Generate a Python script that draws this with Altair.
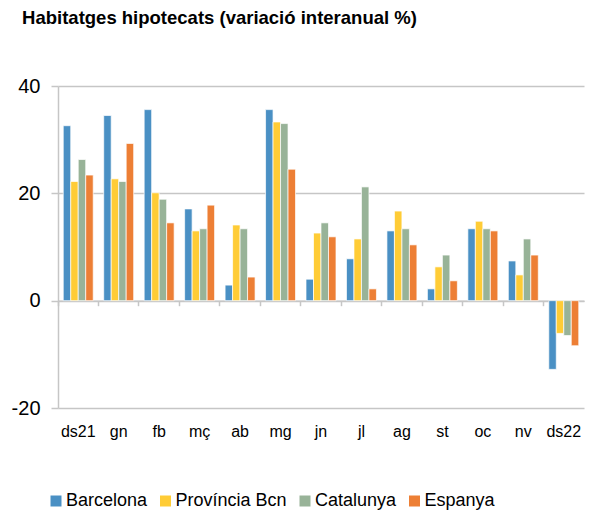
import altair as alt
import pandas as pd

months = ["ds21", "gn", "fb", "mç", "ab", "mg", "jn", "jl", "ag", "st", "oc", "nv", "ds22"]
series = ["Barcelona", "Província Bcn", "Catalunya", "Espanya"]
colors = ["#4A90C4", "#FFCC36", "#98B398", "#ED7F35"]

barcelona = [32.6, 34.5, 35.6, 17.1, 2.9, 35.6, 4.0, 7.8, 13.0, 2.2, 13.4, 7.4, -12.8]
provincia = [22.2, 22.7, 20.1, 13.0, 14.1, 33.3, 12.6, 11.5, 16.7, 6.3, 14.8, 4.8, -6.1]
catalunya = [26.3, 22.2, 18.9, 13.4, 13.4, 33.0, 14.5, 21.2, 13.4, 8.5, 13.4, 11.5, -6.5]
espanya = [23.4, 29.3, 14.5, 17.8, 4.4, 24.5, 11.9, 2.2, 10.4, 3.7, 13.0, 8.5, -8.4]

rows = []
for name, vals in zip(series, [barcelona, provincia, catalunya, espanya]):
    for m, v in zip(months, vals):
        rows.append({"mes": m, "serie": name, "valor": v})
df = pd.DataFrame(rows)

FONT = "Liberation Sans"
GRID = "#c6c6c6"

bars = alt.Chart(df).mark_bar(stroke="white", strokeWidth=0.7).encode(
    x=alt.X("mes:N", sort=months, title=None,
            scale=alt.Scale(paddingInner=0, paddingOuter=0),
            axis=alt.Axis(orient="bottom", offset=-107.3, bandPosition=0,
                          ticks=True, tickSize=5, tickColor=GRID, tickWidth=1.5,
                          domain=True, domainColor=GRID, domainWidth=1.5,
                          labelAngle=0, labelFontSize=16, labelFont=FONT,
                          labelColor="#000000", labelPadding=118, grid=False)),
    xOffset=alt.XOffset("serie:N", sort=series,
                        scale=alt.Scale(paddingInner=0, paddingOuter=0.7)),
    y=alt.Y("valor:Q", title=None,
            scale=alt.Scale(domain=[-20, 40], nice=False, zero=False),
            axis=alt.Axis(values=[-20, 0, 20, 40], labelFontSize=20, labelFont=FONT,
                          labelColor="#000000", labelPadding=11,
                          labelExpr="datum.value + ''",
                          tickSize=7, tickColor=GRID, tickWidth=1.5,
                          domainColor=GRID, domainWidth=1.5,
                          grid=True, gridColor=GRID, gridWidth=1.5)),
    color=alt.Color("serie:N", sort=series,
                    scale=alt.Scale(domain=series, range=colors),
                    legend=alt.Legend(title=None, orient="none", direction="horizontal",
                                      legendX=-11, legendY=406, symbolType="square",
                                      symbolSize=121, symbolStrokeWidth=0,
                                      labelFontSize=18, labelFont=FONT,
                                      labelColor="#000000", labelOffset=1,
                                      columnPadding=8.5, padding=0)),
)

chart = bars.properties(
    width=526, height=322,
    padding={"left": 50, "top": 78, "right": 6, "bottom": 103},
    autosize=alt.AutoSizeParams(type="none"),
    title=alt.TitleParams("Habitatges hipotecats (variació interanual %)",
                          anchor="start", font=FONT, fontSize=18.5, fontWeight="bold",
                          color="#000000", dx=11, offset=49),
).configure_view(stroke=None)

chart.save("out.html", embed_options={"renderer": "svg", "actions": False})
